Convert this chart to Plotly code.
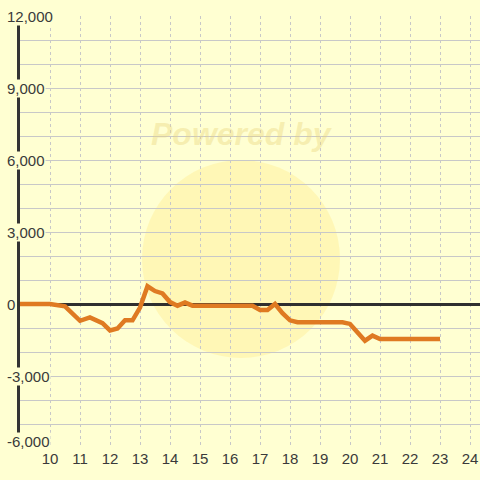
import plotly.graph_objects as go

# Data
x_vals = [9, 10, 10.5, 11, 11.33, 11.75, 12, 12.25, 12.5, 12.75, 13, 13.25, 13.5, 13.75,
          14, 14.25, 14.5, 14.75, 16.75, 17, 17.25, 17.5, 17.75, 18, 18.25, 19.75, 20,
          20.5, 20.75, 21, 23]
y_vals = [0, 0, -100, -700, -560, -800, -1100, -1020, -680, -680, -150, 740, 540, 440,
          80, -70, 60, -70, -70, -250, -250, 0, -380, -680, -760, -760, -830,
          -1530, -1320, -1460, -1460]
x_ticks = list(range(10, 25))
y_ticks = [-6000, -3000, 0, 3000, 6000, 9000, 12000]
y_tick_labels = ["-6,000", "-3,000", "0", "3,000", "6,000", "9,000", "12,000"]

BG = "#FFFFD2"
fig = go.Figure()
fig.add_trace(go.Scatter(x=x_vals, y=y_vals, mode="lines",
                         line=dict(color="#DF7A22", width=4.5), hoverinfo="skip"))

W, H = 480, 480
L, T, B, R = 20, 16, 32, 0
pw, ph = W - L - R, H - T - B

fig.update_layout(
    width=W, height=H,
    margin=dict(l=L, r=R, t=T, b=B, pad=0, autoexpand=False),
    paper_bgcolor=BG, plot_bgcolor=BG,
    showlegend=False,
    font=dict(family="Liberation Sans, Arial, sans-serif", size=14, color="#3a3a3a"),
    xaxis=dict(range=[9, 9 + pw / 30.0], tickvals=x_ticks, ticktext=[str(v) for v in x_ticks],
               showgrid=True, gridcolor="#c8c8c8", griddash="dot", gridwidth=1,
               zeroline=False, showline=False, ticks="", automargin=False,
               tickfont=dict(size=15, color="#3a3a3a")),
    yaxis=dict(range=[-6000, 12000], tickvals=list(range(-6000, 12001, 1000)),
               showticklabels=False, showgrid=True, gridcolor="#c8c8c8", gridwidth=1,
               zeroline=True, zerolinecolor="#2f2f2f", zerolinewidth=3, automargin=False,
               showline=True, linecolor="#333333", linewidth=3, ticks=""),
)

def px_x(p):
    return (p - L) / pw

def px_y(p):
    return (H - B - p) / ph

# Watermark circle and text
fig.add_shape(type="circle", xref="paper", yref="paper",
              x0=px_x(142), x1=px_x(340), y0=px_y(358), y1=px_y(160),
              fillcolor="rgba(255,225,110,0.28)", line=dict(width=0), layer="below")
fig.add_annotation(xref="paper", yref="paper", x=px_x(242), y=px_y(134),
                   xanchor="center", yanchor="middle",
                   text="<b><i>Powered by</i></b>", showarrow=False,
                   font=dict(size=32, color="rgba(232,212,120,0.38)"))

# Y tick labels overlaying the axis line
for v, t in zip(y_ticks, y_tick_labels):
    fig.add_annotation(xref="paper", yref="y", x=px_x(6), y=v, text=t,
                       xanchor="left", yanchor="middle", showarrow=False,
                       yshift=7 if v == -6000 else 0,
                       bgcolor=BG, borderpad=0,
                       font=dict(size=15, color="#3a3a3a"))

fig.write_html("out.html", config={"displayModeBar": False},
               post_script="document.body.style.margin='0px';")
